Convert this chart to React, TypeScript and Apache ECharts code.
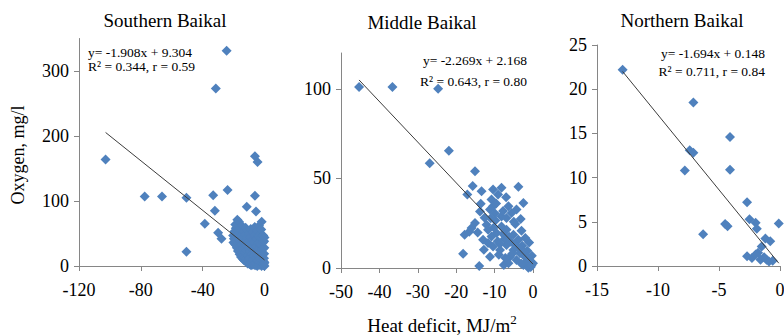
import React, { useEffect, useRef } from 'react';
import * as echarts from 'echarts';

// Southern Baikal: [heat deficit, oxygen]
const southern: number[][] = [
  [-24.5, 331], [-31.5, 273], [-102.8, 164], [-77.5, 107], [-66.3, 107], [-50.5, 105],
  [-50.5, 22], [-38.6, 65], [-33.2, 109], [-32.1, 85], [-30.0, 51], [-27.8, 42],
  [-23.9, 117], [-11.5, 91], [-6.2, 108], [-6.2, 169], [-4.5, 160], [-5.5, 84], [-1.8, 68],
  [-20.1, 36], [-19.8, 42], [-20.3, 47], [-19.5, 53], [-19.0, 33], [-18.8, 38], [-18.6, 58],
  [-18.9, 64], [-17.9, 28], [-18.2, 45], [-17.6, 71], [-17.2, 23], [-17.0, 31], [-16.8, 49],
  [-16.5, 68], [-16.1, 18], [-15.9, 25], [-15.8, 39], [-16.2, 57], [-15.2, 14], [-15.0, 20],
  [-14.8, 33], [-15.3, 46], [-14.6, 62], [-14.1, 11], [-13.9, 16], [-13.7, 27], [-14.2, 41],
  [-13.5, 53], [-13.2, 9], [-12.9, 13], [-12.7, 21], [-13.0, 36], [-12.5, 48], [-12.2, 59],
  [-12.0, 7], [-11.8, 11], [-11.6, 24], [-11.9, 31], [-11.3, 44], [-11.1, 55], [-10.9, 4],
  [-10.7, 8], [-10.5, 16], [-10.3, 28], [-10.1, 38], [-10.0, 50], [-9.8, 3], [-9.6, 12],
  [-9.4, 22], [-9.2, 33], [-9.0, 45], [-8.9, 57], [-8.7, 1], [-8.5, 6], [-8.3, 18],
  [-8.1, 27], [-7.9, 40], [-7.7, 52], [-7.5, 2], [-7.3, 10], [-7.1, 15], [-6.9, 24],
  [-6.7, 36], [-6.5, 48], [-6.3, 60], [-6.1, 1], [-5.9, 5], [-5.7, 13], [-5.5, 20],
  [-5.3, 30], [-5.1, 42], [-4.9, 55], [-4.7, 0], [-4.5, 8], [-4.3, 16], [-4.1, 26],
  [-3.9, 35], [-3.7, 46], [-3.5, 62], [-3.3, 2], [-3.1, 6], [-2.9, 12], [-2.7, 22],
  [-2.5, 34], [-2.3, 44], [-2.1, 56], [-1.9, 0], [-1.7, 4], [-1.5, 9], [-1.3, 17],
  [-1.1, 26], [-0.9, 36], [-0.8, 47], [-0.6, 1], [-0.5, 3], [-0.4, 7], [-0.3, 12],
  [-0.2, 19], [-0.1, 28], [-0.2, 38], [0, 0], [0, 5], [0, 44],
];

const middle: number[][] = [
  [-45.3, 101], [-36.6, 101], [-24.7, 100], [-21.9, 65.5], [-26.9, 58.5], [-15.1, 54],
  [-15.7, 45.7], [-17.1, 41], [-13.4, 42.9], [-10.4, 43.8], [-8.2, 44.8], [-9.1, 41],
  [-3.8, 45.3], [-2.5, 36.3], [-13.8, 31.6], [-10.8, 38.2], [-10.4, 34.4], [-11.2, 32.6],
  [-6.4, 34.4], [-5.6, 30.7], [-4.3, 32.6], [-8.2, 28.8], [-6.9, 27.9], [-15.1, 25.1],
  [-16.0, 22.3], [-17.8, 18.5], [-12.1, 24.2], [-11.7, 21.3], [-10.8, 17.6], [-9.5, 19.5],
  [-8.2, 23.2], [-6.9, 21.3], [-5.1, 18.5], [-3.8, 15.7], [-10.4, 12], [-8.6, 10.1],
  [-6.9, 12.9], [-11.7, 13.9], [-13.0, 15.7], [-5.1, 10.1], [-3.4, 8.3], [-2.1, 6.3],
  [-0.8, 3.5], [-6.0, 6.3], [-4.3, 4.5], [-2.5, 1.7], [-1.2, 0.2], [0, 2.6], [-18.2, 7.9],
  [-14.0, 1.1], [-7.6, 1.7], [-11.2, 6.3], [-0.6, 0.5], [-1.8, 3.2], [-3.0, 2.4],
  [-9.8, 26.5], [-12.6, 28], [-7.4, 16.2], [-4.6, 24.5], [-2.8, 12.4], [-1.5, 9.6],
  [-0.3, 6.8], [-5.8, 14.6], [-8.9, 7.4], [-12.8, 10.2], [-14.4, 19.8], [-9.9, 30.4],
  [-3.2, 27.4], [-1.0, 14.2], [-6.4, 2.6], [-16.6, 20.2], [-13.6, 35.8], [-7.0, 39.5],
  [-9.2, 15.0], [-7.8, 19.0], [-6.2, 17.4], [-4.9, 13.2], [-3.6, 11.0], [-2.4, 9.2],
  [-1.3, 6.0], [-0.4, 1.4], [-5.4, 8.0], [-7.2, 5.6], [-8.6, 13.6], [-10.2, 22.6],
  [-11.0, 27.8], [-9.6, 36.0], [-7.8, 31.8], [-5.0, 25.8], [-3.0, 20.8], [-2.0, 16.8],
];

const northern: number[][] = [
  [-12.9, 22.2], [-7.1, 18.5], [-4.1, 14.6], [-7.4, 13.1], [-7.1, 12.8], [-7.8, 10.8],
  [-4.1, 10.9], [-2.7, 7.2], [-6.3, 3.6], [-4.5, 4.75], [-4.3, 4.5], [-0.1, 4.8],
  [-2.5, 5.3], [-2.0, 4.9], [-1.9, 4.2], [-1.2, 3.1], [-0.8, 2.8], [-1.5, 2.2],
  [-1.8, 1.5], [-2.7, 1.1], [-2.3, 0.9], [-1.6, 0.7], [-1.1, 0.7], [-0.6, 0.6],
  [-2.0, 1.3], [-1.3, 1.0], [-0.9, 0.5],
];

const titles = ['Southern Baikal', 'Middle Baikal', 'Northern Baikal'];
const equations = [
  ['y= -1.908x + 9.304', 'R² = 0.344, r = 0.59'],
  ['y= -2.269x + 2.168', 'R² = 0.643, r = 0.80'],
  ['y= -1.694x + 0.148', 'R² = 0.711, r = 0.84'],
];
const slopes = [-1.908, -2.269, -1.694];
const intercepts = [9.304, 2.168, 0.148];
const xMins = [-120, -50, -15];
const xIntervals = [40, 10, 5];
const xTickValues = [[-120, -80, -40, 0], [-50, -40, -30, -20, -10, 0], [-15, -10, -5, 0]];
const yMaxs = [350, 120, 25];
const yIntervals = [100, 50, 5];
const yTickValues = [[0, 100, 200, 300], [0, 50, 100], [0, 5, 10, 15, 20, 25]];

const datasets = [southern, middle, northern];

const grids = [
  { left: 79, top: 38.5, width: 185.5, height: 227.5 },
  { left: 341, top: 53, width: 192, height: 215 },
  { left: 597, top: 45, width: 183, height: 221 },
];

const FONT = "'Liberation Serif', serif";
const AXIS_COLOR = '#868686';
const MARK = '#4F81BD';

export default function App() {
  const ref = useRef<HTMLDivElement>(null);
  useEffect(() => {
    if (!ref.current) return;
    const chart = echarts.init(ref.current, undefined, { renderer: 'svg' });

    const xAxis = datasets.map((_, i) => ({
      gridIndex: i,
      type: 'value',
      min: xMins[i],
      max: 0,
      interval: xIntervals[i],
      axisLine: { onZero: false, lineStyle: { color: AXIS_COLOR, width: 1 } },
      axisTick: { show: true, length: 5, lineStyle: { color: AXIS_COLOR } },
      axisLabel: { show: false },
      splitLine: { show: false },
    }));
    const yAxis = datasets.map((_, i) => ({
      gridIndex: i,
      type: 'value',
      min: 0,
      max: yMaxs[i],
      interval: yIntervals[i],
      axisLine: { show: true, onZero: false, lineStyle: { color: AXIS_COLOR, width: 1 } },
      axisTick: { show: true, length: 5, lineStyle: { color: AXIS_COLOR }, customValues: yTickValues[i] },
      axisLabel: { show: false },
      splitLine: { show: false },
    }));

    const series: any[] = [];
    datasets.forEach((data, i) => {
      series.push({
        type: 'scatter',
        xAxisIndex: i,
        yAxisIndex: i,
        data,
        symbol: 'diamond',
        symbolSize: 10,
        itemStyle: { color: MARK, opacity: 1 },
        z: 2,
      });
      const xs = data.map((d) => d[0]);
      const lo = Math.min(...xs);
      const hi = Math.max(...xs);
      series.push({
        type: 'line',
        xAxisIndex: i,
        yAxisIndex: i,
        data: [
          [lo, slopes[i] * lo + intercepts[i]],
          [hi, slopes[i] * hi + intercepts[i]],
        ],
        symbol: 'none',
        lineStyle: { color: '#3c3c3c', width: 1 },
        z: 3,
        silent: true,
      });
    });

    const titlePos = [
      [165, 20],
      [422, 22],
      [682, 20],
    ];
    const eqPos = [
      { x: 88, y: 59.5, lh: 14.5, align: 'left' },
      { x: 527, y: 70.5, lh: 21, align: 'right' },
      { x: 765, y: 62, lh: 18, align: 'right' },
    ];

    const graphic: any[] = [];
    titles.forEach((t, i) => {
      graphic.push({
        type: 'text',
        x: titlePos[i][0],
        y: titlePos[i][1],
        style: {
          text: t, fontFamily: FONT, fontSize: 19, fill: '#000',
          align: 'center', verticalAlign: 'middle',
        },
      });
      graphic.push({
        type: 'text',
        x: eqPos[i].x,
        y: eqPos[i].y,
        z: 10,
        style: {
          text: equations[i].join('\n'), fontFamily: FONT, fontSize: 13.5, fill: '#000',
          lineHeight: eqPos[i].lh,
          align: eqPos[i].align, verticalAlign: 'middle',
        },
      });
    });
    graphic.push({
      type: 'text',
      x: 18,
      y: 155,
      rotation: Math.PI / 2,
      style: {
        text: 'Oxygen, mg/l', fontFamily: FONT, fontSize: 18, fill: '#000',
        align: 'center', verticalAlign: 'middle',
      },
    });
    graphic.push({
      type: 'text',
      x: 442,
      y: 324,
      style: {
        text: '{a|Heat deficit, MJ/m}{b|2}',
        fontFamily: FONT,
        fill: '#000',
        align: 'center',
        verticalAlign: 'middle',
        rich: {
          a: { fontFamily: FONT, fontSize: 19, lineHeight: 22, verticalAlign: 'bottom' },
          b: { fontFamily: FONT, fontSize: 13, lineHeight: 22, verticalAlign: 'top' },
        },
      },
    });

    chart.setOption({
      animation: false,
      backgroundColor: '#fff',
      textStyle: { fontFamily: FONT },
      grid: grids.map((g) => ({ ...g, containLabel: false })),
      xAxis,
      yAxis,
      series,
      graphic,
    });

    // Tick labels placed through the axes' own scales
    const tickLabels: any[] = [];
    datasets.forEach((_, i) => {
      xTickValues[i].forEach((v) => {
        const p = chart.convertToPixel({ gridIndex: i }, [v, 0]) as number[];
        tickLabels.push({
          type: 'text', x: p[0], y: p[1] + 24,
          style: { text: String(v), fontFamily: FONT, fontSize: 18, fill: '#000', align: 'center', verticalAlign: 'middle' },
        });
      });
      yTickValues[i].forEach((v) => {
        const p = chart.convertToPixel({ gridIndex: i }, [xMins[i], v]) as number[];
        tickLabels.push({
          type: 'text', x: p[0] - 10, y: p[1],
          style: { text: String(v), fontFamily: FONT, fontSize: 18, fill: '#000', align: 'right', verticalAlign: 'middle' },
        });
      });
    });
    chart.setOption({ graphic: [...graphic, ...tickLabels] });

    return () => chart.dispose();
  }, []);
  return <div ref={ref} style={{ width: 784, height: 336, position: 'absolute', left: 0, top: 0 }} />;
}
